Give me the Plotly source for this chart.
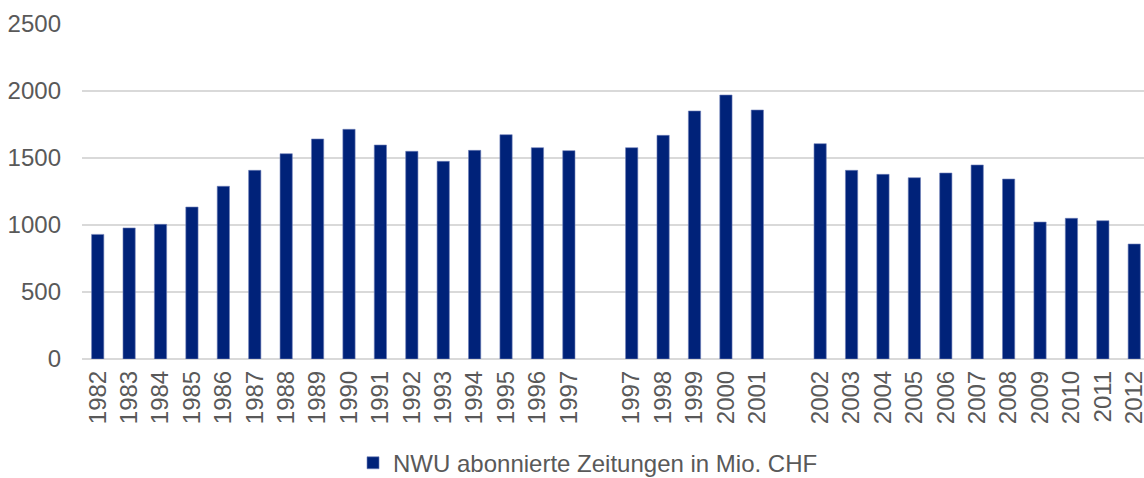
import plotly.graph_objects as go

# Categories (with empty slots between the three blocks)
years_a = ["1982", "1983", "1984", "1985", "1986", "1987", "1988", "1989",
           "1990", "1991", "1992", "1993", "1994", "1995", "1996", "1997"]
years_b = ["1997", "1998", "1999", "2000", "2001"]
years_c = ["2002", "2003", "2004", "2005", "2006", "2007", "2008", "2009",
           "2010", "2011", "2012"]

values_a = [930, 978, 1005, 1134, 1289, 1408, 1532, 1642,
            1714, 1597, 1550, 1475, 1557, 1674, 1577, 1555]
values_b = [1577, 1669, 1851, 1970, 1858]
values_c = [1607, 1408, 1378, 1353, 1388, 1448, 1343, 1022,
            1050, 1032, 858]

series_name = "NWU abonnierte Zeitungen in Mio. CHF"

# Build positions: one empty slot between blocks
labels = years_a + [""] + years_b + [""] + years_c
values = values_a + [None] + values_b + [None] + values_c
positions = list(range(len(labels)))

xs = [p for p, v in zip(positions, values) if v is not None]
ys = [v for v in values if v is not None]
tick_pos = [p for p, l in zip(positions, labels) if l]
tick_txt = [l for l in labels if l]

font_family = "Liberation Sans, Arial, sans-serif"
grey = "#595959"

fig = go.Figure()
fig.add_trace(go.Bar(
    x=xs, y=ys, name=series_name, width=0.39,
    marker=dict(color="#002279", line=dict(color="#6f80b8", width=0.6)),
))

fig.update_layout(
    width=1144, height=478,
    margin=dict(l=82, r=0, t=24, b=119),
    paper_bgcolor="white", plot_bgcolor="white",
    font=dict(family=font_family, size=24, color=grey),
    showlegend=True,
    legend=dict(orientation="h", xref="container", yref="container",
                x=0.514, xanchor="center", y=0.031, yanchor="middle",
                font=dict(size=24, color=grey), itemwidth=30),
)
fig.update_xaxes(
    range=[-0.5, 33.31], tickmode="array", tickvals=tick_pos, ticktext=tick_txt,
    tickangle=-90, showgrid=False, zeroline=False, showline=False,
    ticks="", ticklabelstandoff=6, tickfont=dict(size=24, color=grey),
    ticklabeloverflow="allow", automargin=False,
)
fig.update_yaxes(
    range=[0, 2500], dtick=500, showgrid=True, gridcolor="#d9d9d9", gridwidth=1.5,
    zeroline=True, zerolinecolor="#d9d9d9", zerolinewidth=1.5,
    showline=False, ticks="", ticklabelstandoff=20,
    tickfont=dict(size=24, color=grey), automargin=False,
)

fig.write_html(
    "out.html",
    config={"displayModeBar": False},
    post_script="document.body.style.margin='0';document.body.style.overflow='hidden';",
)
